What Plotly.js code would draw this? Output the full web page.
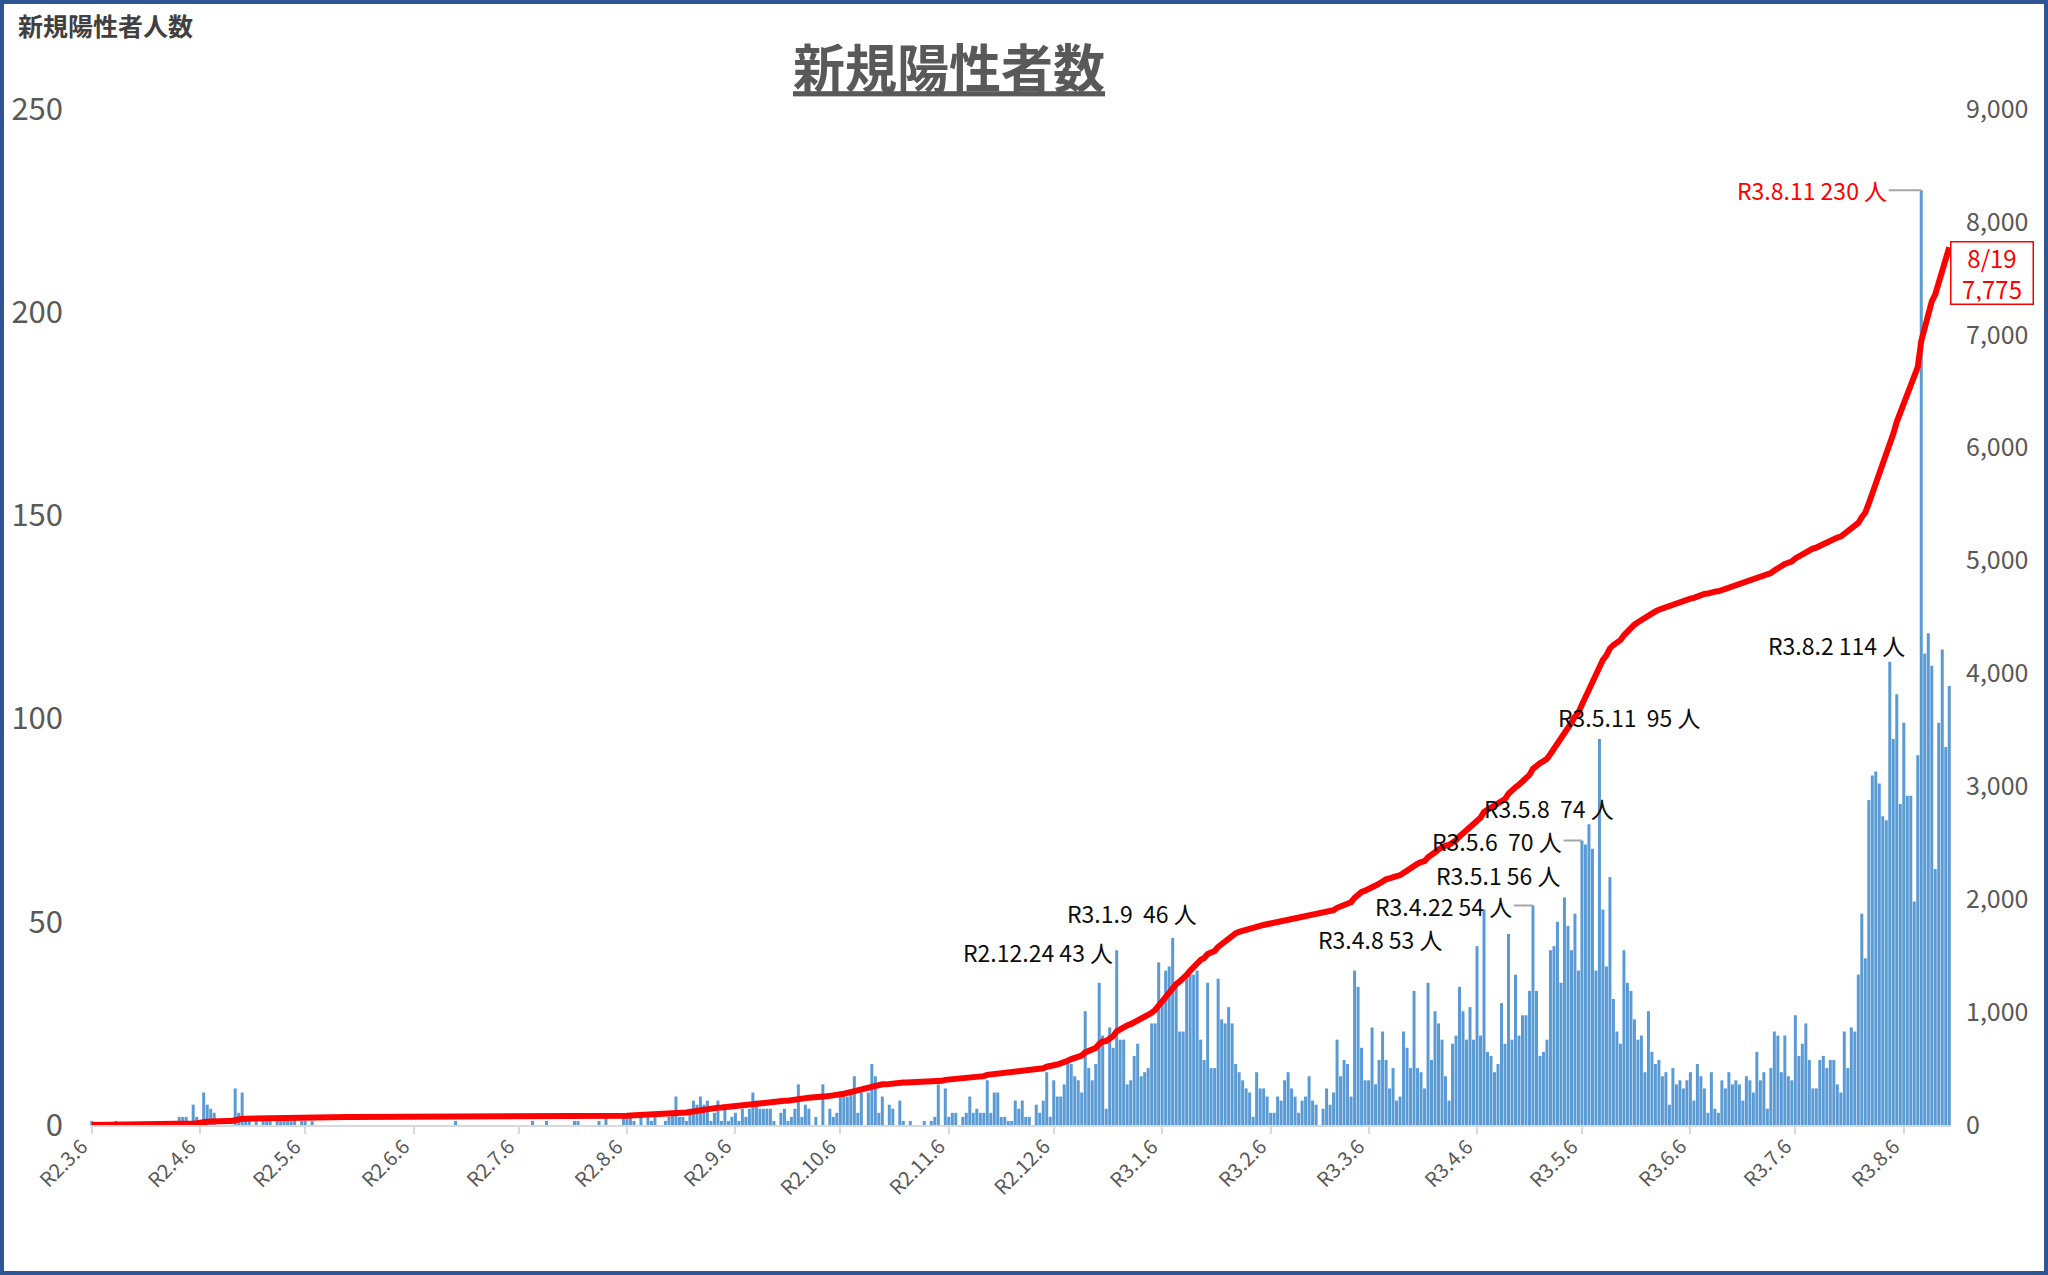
<!DOCTYPE html>
<html>
<head>
<meta charset="utf-8">
<script src="https://cdn.plot.ly/plotly-3.0.1.min.js"></script>
<style>
html,body{margin:0;padding:0;background:#fff;}
#wrap{position:relative;width:2048px;height:1275px;overflow:hidden;}
#chart{position:absolute;left:0;top:0;width:2048px;height:1275px;}
#frame{position:absolute;left:0;top:0;width:2048px;height:1275px;box-sizing:border-box;border:4px solid #2F5597;pointer-events:none;}
</style>
</head>
<body>
<div id="wrap"><div id="chart"></div><div id="frame"></div></div>
<script>
// ---------------- DATA ----------------
const START_DATE = '2020-03-06';

// daily new positive cases, one value per day from 2020-03-06 (R2.3.6) to 2021-08-19 (R3.8.19)
const daily = [
  1,0,0,0,0,0,0,1,0,0,        // 0
  0,0,0,0,0,0,0,0,0,0,        // 10
  0,0,0,0,0,2,2,2,0,5,        // 20
  2,0,8,5,4,3,0,0,0,0,        // 30
  0,9,3,8,1,1,0,1,0,1,        // 40
  1,1,0,1,1,1,1,1,2,0,        // 50
  1,1,0,1,0,0,0,0,0,0,        // 60
  0,0,0,0,0,0,0,0,0,0,        // 70
  0,0,0,0,0,0,0,0,0,0,        // 80
  0,0,0,0,0,0,0,0,0,0,        // 90
  0,0,0,0,1,0,0,0,0,0,        // 100
  0,0,0,0,0,0,0,0,0,0,        // 110
  0,0,0,0,0,0,1,0,0,0,        // 120
  1,0,0,0,0,0,0,0,1,1,        // 130
  0,0,0,0,0,1,0,2,0,0,        // 140
  0,0,2,2,2,1,0,2,0,2,        // 150
  1,2,0,0,1,2,3,7,2,2,        // 160
  1,4,6,5,7,5,6,1,3,6,        // 170
  1,4,1,2,3,1,4,2,4,8,        // 180
  6,4,4,4,4,1,0,3,4,1,        // 190
  2,4,10,2,5,4,0,2,0,10,      // 200
  0,4,2,3,7,7,7,8,12,3,       // 210
  8,0,8,15,12,3,7,0,5,4,      // 220
  0,6,1,0,1,0,0,0,1,0,        // 230
  1,2,10,0,9,2,3,3,0,2,       // 240
  3,7,3,4,3,3,11,3,8,8,       // 250
  2,2,1,1,6,4,6,2,2,0,        // 260
  5,3,6,13,2,11,7,7,10,16,    // 270
  15,12,11,8,28,14,11,15,35,22, // 280
  4,24,19,43,21,21,10,11,17,20, // 290
  12,13,14,25,25,40,31,38,39,46, // 300
  35,23,23,36,37,37,38,21,16,35, // 310
  14,14,36,26,25,29,25,15,13,11, // 320
  9,8,2,13,9,9,7,3,3,7,       // 330
  6,11,13,9,7,3,6,7,12,6,     // 340
  5,0,4,9,5,8,21,12,16,15,    // 350
  7,38,34,19,11,11,24,10,16,23, // 360
  16,9,14,6,7,23,19,14,33,14, // 370
  13,9,35,16,28,25,21,12,6,20, // 380
  22,34,28,21,29,21,44,22,53,18, // 390
  17,13,15,30,20,47,21,37,22,27, // 400
  27,33,54,33,17,18,21,43,44,50, // 410
  35,56,49,43,52,38,70,69,74,68, // 420
  38,95,53,39,61,31,23,20,43,35, // 430
  33,26,21,22,13,28,18,15,16,12, // 440
  13,5,14,10,11,9,11,13,6,15, // 450
  12,9,3,13,4,3,11,9,13,10,   // 460
  11,10,6,12,11,8,18,11,13,4, // 470
  14,23,22,13,22,12,11,27,17,20, // 480
  25,16,9,9,16,17,14,16,16,10, // 490
  8,23,14,24,23,37,52,41,80,86, // 500
  87,84,76,75,114,95,106,79,99,81, // 510
  81,55,91,230,116,121,113,63,99,117, // 520
  93,108                       // 530
];

// x-axis month ticks
const tickDates = ['2020-03-06','2020-04-06','2020-05-06','2020-06-06','2020-07-06','2020-08-06',
  '2020-09-06','2020-10-06','2020-11-06','2020-12-06','2021-01-06','2021-02-06','2021-03-06',
  '2021-04-06','2021-05-06','2021-06-06','2021-07-06','2021-08-06'];
const tickLabels = ['R2.3.6','R2.4.6','R2.5.6','R2.6.6','R2.7.6','R2.8.6','R2.9.6','R2.10.6',
  'R2.11.6','R2.12.6','R3.1.6','R3.2.6','R3.3.6','R3.4.6','R3.5.6','R3.6.6','R3.7.6','R3.8.6'];

// highlighted days
const calloutDates = ['2020-12-24','2021-01-09','2021-04-08','2021-04-22','2021-05-01',
  '2021-05-06','2021-05-08','2021-05-11','2021-08-02','2021-08-11'];
const calloutTexts = ['R2.12.24 43 人','R3.1.9\u00a0 46 人','R3.4.8 53 人','R3.4.22 54 人','R3.5.1 56 人',
  'R3.5.6\u00a0 70 人','R3.5.8\u00a0 74 人','R3.5.11\u00a0 95 人','R3.8.2 114 人','R3.8.11 230 人'];

// ---------------- STYLE ----------------
const FONT = '"Noto Sans CJK JP", "Noto Sans", sans-serif';
const calloutStyle = [
  {ax:-79, ay:2,   leader:false, color:'#0D0D0D'},
  {ax:-41, ay:-25, leader:false, color:'#0D0D0D'},
  {ax:-104,ay:29,  leader:false, color:'#0D0D0D'},
  {ax:-89, ay:0,   leader:true,  color:'#0D0D0D'},
  {ax:-66, ay:-22, leader:false, color:'#0D0D0D'},
  {ax:-85, ay:0,   leader:true,  color:'#0D0D0D'},
  {ax:-40, ay:-16, leader:false, color:'#0D0D0D'},
  {ax:30,  ay:-22, leader:false, color:'#0D0D0D'},
  {ax:-53, ay:-17, leader:false, color:'#0D0D0D'},
  {ax:-109,ay:0,   leader:true,  color:'#FF0000'}
];

// ---------------- BUILD ----------------
const DAY = 864e5;
const t0 = Date.parse(START_DATE + 'T00:00:00Z');
const fmt = ms => new Date(ms).toISOString().slice(0, 16).replace('T', ' ');
const dates = daily.map((_, i) => fmt(t0 + i * DAY).slice(0, 10));
const cumulative = [];
let run = 0;
daily.forEach(v => { run += v; cumulative.push(run); });
const lastIdx = daily.length - 1;

const bars = {
  type: 'bar', x: dates, y: daily,
  marker: {color: '#5B9BD5'},
  width: DAY * 0.86,
  hoverinfo: 'x+y'
};
const line = {
  type: 'scatter', mode: 'lines', x: dates, y: cumulative, yaxis: 'y2',
  line: {color: '#FF0000', width: 6},
  hoverinfo: 'x+y'
};

const annotations = calloutDates.map((d, k) => {
  const i = dates.indexOf(d);
  const st = calloutStyle[k];
  return {
    x: dates[i], y: daily[i], xref: 'x', yref: 'y',
    text: calloutTexts[k],
    showarrow: true, arrowhead: 0, arrowwidth: 2, standoff: 0, startstandoff: 0,
    arrowcolor: st.leader ? '#A6A6A6' : 'rgba(0,0,0,0)',
    ax: st.ax, ay: st.ay,
    font: {family: FONT, size: 23, color: st.color}
  };
});

// rotated month labels under the x axis (ending at each tick)
tickDates.forEach((d, k) => {
  annotations.push({
    x: d, y: 0, xref: 'x', yref: 'paper',
    text: tickLabels[k], textangle: -45,
    showarrow: false, xanchor: 'right', yanchor: 'top',
    xshift: 4, yshift: -4,
    font: {family: FONT, size: 20, color: '#595959'}
  });
});

const lastDate = new Date(t0 + lastIdx * DAY);
annotations.push({
  x: dates[lastIdx], y: cumulative[lastIdx], xref: 'x', yref: 'y2',
  text: (lastDate.getUTCMonth() + 1) + '/' + lastDate.getUTCDate() + '<br>' + cumulative[lastIdx].toLocaleString('en-US'),
  showarrow: false, xanchor: 'center', yanchor: 'middle', xshift: 43, yshift: -26,
  bordercolor: '#FF0000', borderwidth: 1.5, borderpad: 2, bgcolor: '#FFFFFF',
  width: 77, height: 57, align: 'center',
  font: {family: FONT, size: 24, color: '#FF0000'}
});
annotations.push({
  xref: 'paper', yref: 'paper', x: -0.0398, y: 1.0827, xanchor: 'left', yanchor: 'middle',
  text: '<b>新規陽性者人数</b>', showarrow: false,
  font: {family: FONT, size: 25, color: '#404040'}
});

const layout = {
  width: 2048, height: 1275,
  margin: {l: 90, r: 97, t: 109, b: 150, pad: 0},
  paper_bgcolor: '#FFFFFF', plot_bgcolor: '#FFFFFF',
  showlegend: false,
  font: {family: FONT, color: '#595959'},
  title: {
    text: '<u><b>新規陽性者数</b></u>',
    font: {family: FONT, size: 52, color: '#595959'},
    x: 949 / 2048, xref: 'container', xanchor: 'center',
    y: 1 - 70 / 1275, yref: 'container', yanchor: 'middle'
  },
  xaxis: {
    type: 'date',
    range: [fmt(t0 - DAY / 2), fmt(t0 + lastIdx * DAY + DAY / 2)],
    tickmode: 'array', tickvals: tickDates, ticktext: tickLabels,
    showticklabels: false,
    ticks: 'outside', ticklen: 7, tickwidth: 2, tickcolor: '#D9D9D9',
    showline: true, linecolor: '#D9D9D9', linewidth: 2,
    showgrid: false, zeroline: false
  },
  yaxis: {
    range: [0, 250], tickmode: 'linear', tick0: 0, dtick: 50,
    showgrid: false, zeroline: false, showline: false, ticks: '',
    tickfont: {family: FONT, size: 31, color: '#595959'},
    ticklabelstandoff: 26
  },
  yaxis2: {
    overlaying: 'y', side: 'right',
    range: [0, 9000], tickmode: 'linear', tick0: 0, dtick: 1000, tickformat: ',d',
    showgrid: false, zeroline: false, showline: false, ticks: '',
    tickfont: {family: FONT, size: 25, color: '#595959'},
    ticklabelstandoff: 14
  },
  annotations: annotations
};

Plotly.newPlot('chart', [bars, line], layout, {displayModeBar: false, staticPlot: true});
</script>
</body>
</html>
